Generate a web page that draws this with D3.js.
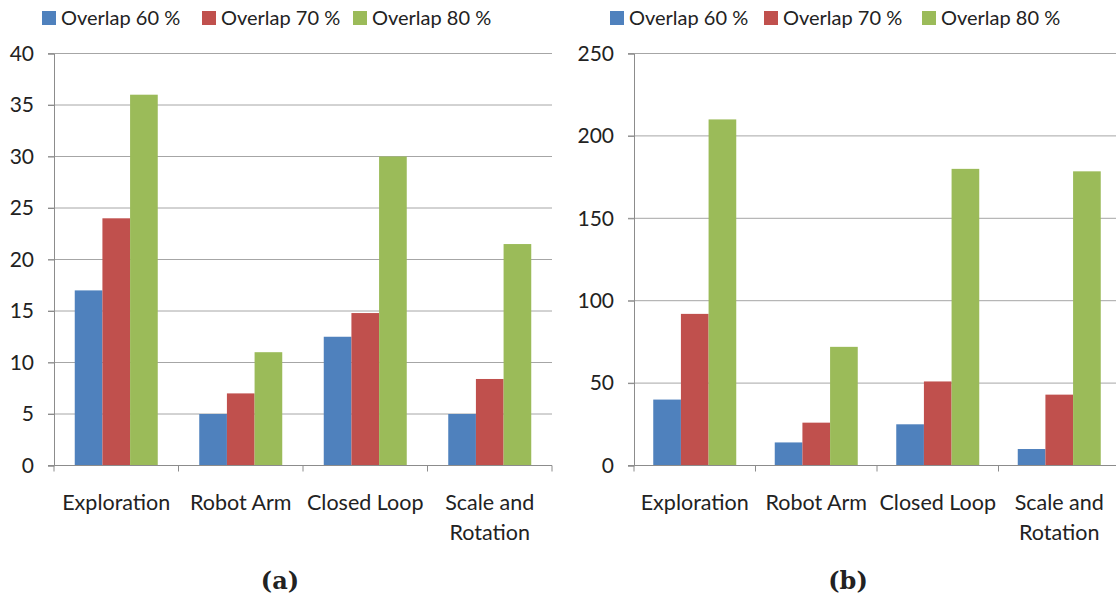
<!DOCTYPE html>
<html>
<head>
<meta charset="utf-8">
<script src="https://cdn.jsdelivr.net/npm/d3@7"></script>
<style>
  body { margin: 0; background: #fff; }
  text { font-family: Lato, "Noto Sans", sans-serif; fill: #222; }
</style>
</head>
<body>
<script>
var w = 1116;
var h = 601;

// chart data
var categories = ["Exploration", "Robot Arm", "Closed Loop", "Scale and Rotation"];
var seriesNames = ["Overlap 60 %", "Overlap 70 %", "Overlap 80 %"];
var colors = ["#4F81BD", "#C0504D", "#9BBB59"];

var valuesA = [
  [17, 5, 12.5, 5],
  [24, 7, 14.8, 8.4],
  [36, 11, 30, 21.5]
];
var ticksA = [0, 5, 10, 15, 20, 25, 30, 35, 40];

var valuesB = [
  [40, 14, 25, 10],
  [92, 26, 51, 43],
  [210, 72, 180, 178.5]
];
var ticksB = [0, 50, 100, 150, 200, 250];

var svg = d3.select("body").append("svg").attr("width", w).attr("height", h);

drawChart({ left: 54, right: 552, top: 53.5, bottom: 465.5, values: valuesA, ticks: ticksA,
            legendX: [42, 202, 353], caption: "(a)", captionX: 280 });
drawChart({ left: 634, right: 1120, top: 53.5, bottom: 465.5, values: valuesB, ticks: ticksB,
            legendX: [610, 764, 922], caption: "(b)", captionX: 848 });

function drawChart(o) {
  var g = svg.append("g");

  var x = d3.scaleBand().domain(categories).range([o.left, o.right]).paddingInner(0).paddingOuter(0);
  // the 3-bar group takes about two thirds of each category
  var inner = d3.scaleBand().domain(d3.range(seriesNames.length))
    .range([0, x.bandwidth()]).paddingInner(0)
    .paddingOuter((x.bandwidth() - 83) / 2 / (83 / 3));

  var y = d3.scaleLinear().domain([0, d3.max(o.ticks)]).range([o.bottom, o.top]);

  // gridlines
  g.selectAll(".grid")
    .data(o.ticks.filter(function(t) { return t > 0; }))
    .enter().append("line")
    .attr("x1", o.left - 6).attr("x2", Math.min(o.right, w))
    .attr("y1", function(d) { return y(d); }).attr("y2", function(d) { return y(d); })
    .attr("stroke", "#a6a6a6").attr("stroke-width", 1);

  // bars
  seriesNames.forEach(function(s, si) {
    g.selectAll(".bar" + si)
      .data(o.values[si])
      .enter().append("rect")
      .attr("x", function(d, i) { return x(categories[i]) + inner(si); })
      .attr("y", function(d) { return y(d); })
      .attr("width", inner.bandwidth())
      .attr("height", function(d) { return o.bottom - y(d); })
      .attr("fill", colors[si]);
  });

  // y axis
  var yAxis = g.append("g")
    .attr("transform", "translate(" + o.left + ",0)")
    .call(d3.axisLeft(y).tickValues(o.ticks).tickSize(6).tickPadding(14));
  yAxis.select(".domain").attr("stroke", "#8c8c8c");
  yAxis.selectAll(".tick line").attr("stroke", "#8c8c8c");
  yAxis.selectAll("text").style("font-size", "21px").attr("fill", "#222")
    .style("font-family", "Lato, sans-serif");

  // x axis: baseline + boundary ticks
  var right = Math.min(o.right, w);
  g.append("line").attr("x1", o.left - 6).attr("x2", right)
    .attr("y1", o.bottom).attr("y2", o.bottom).attr("stroke", "#8c8c8c");
  g.selectAll(".xt")
    .data(categories.map(function(c) { return x(c); }).concat([o.right]))
    .enter().append("line")
    .attr("x1", function(d) { return d; }).attr("x2", function(d) { return d; })
    .attr("y1", o.bottom).attr("y2", o.bottom + 6)
    .attr("stroke", "#8c8c8c");

  // category labels (last one wraps)
  var labels = g.selectAll(".cat")
    .data(categories)
    .enter().append("text")
    .attr("text-anchor", "middle")
    .style("font-size", "21.5px")
    .attr("y", 510);
  labels.each(function(d) {
    var t = d3.select(this);
    var cx = x(d) + x.bandwidth() / 2;
    var lines = d == "Scale and Rotation" ? ["Scale and", "Rotation"] : [d];
    lines.forEach(function(l, li) {
      t.append("tspan").attr("x", cx).attr("dy", li == 0 ? 0 : 30).text(l);
    });
  });

  // legend
  seriesNames.forEach(function(s, si) {
    g.append("rect").attr("x", o.legendX[si]).attr("y", 11)
      .attr("width", 14).attr("height", 14).attr("fill", colors[si]);
    g.append("text").attr("x", o.legendX[si] + 19).attr("y", 25)
      .style("font-size", "20px").text(s);
  });

  // caption
  g.append("text").attr("x", o.captionX).attr("y", 589)
    .attr("text-anchor", "middle")
    .style("font-family", "'DejaVu Serif', serif")
    .style("font-weight", "bold").style("font-size", "24px")
    .text(o.caption);
}
</script>
</body>
</html>
